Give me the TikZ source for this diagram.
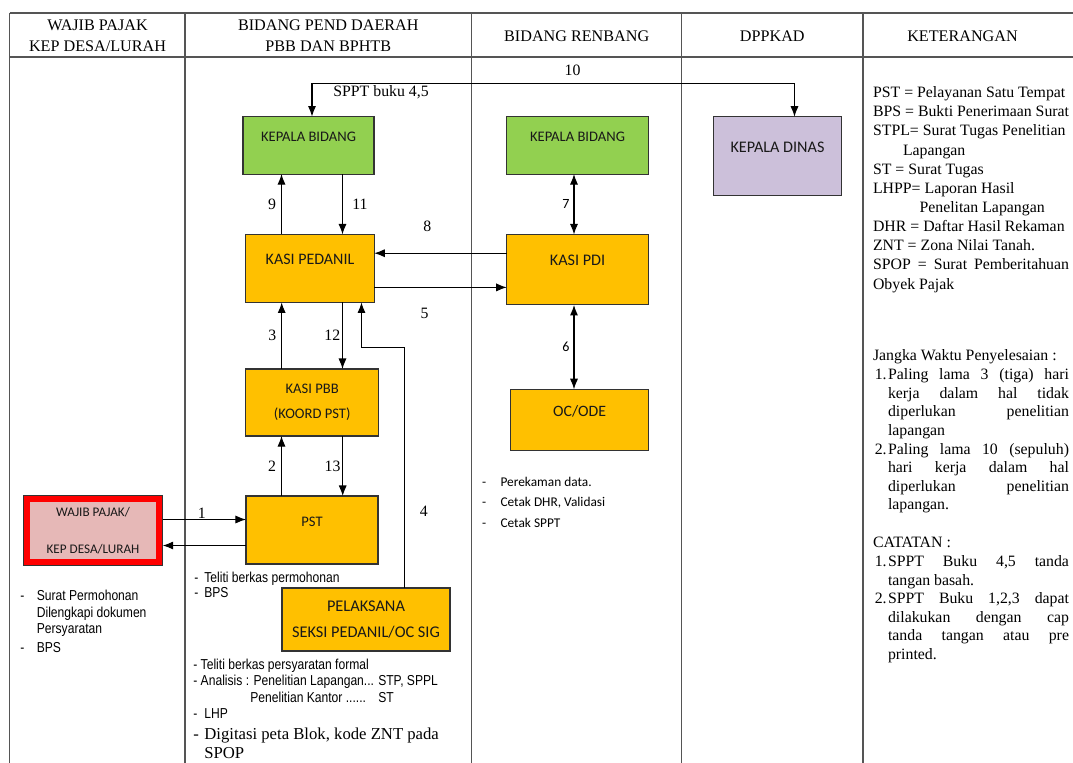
\documentclass[tikz,border=0pt]{standalone}
\usepackage{fontspec}
\setmainfont{Liberation Serif}
\newfontfamily\calibri{Carlito}
\newfontfamily\arialn[FakeStretch=0.84]{Liberation Sans}
\usetikzlibrary{arrows.meta,positioning,calc}
\definecolor{boxgreen}{HTML}{92D050}
\definecolor{boxorange}{HTML}{FFC000}
\definecolor{boxpurple}{HTML}{CCC0DA}
\definecolor{boxpink}{HTML}{E6B8B7}
\definecolor{tblgray}{HTML}{555555}
\definecolor{edgegray}{HTML}{333333}

\begin{document}
\begin{tikzpicture}[x=0.02cm, y=-0.02cm,
    box/.style={rectangle, draw=edgegray, line width=0.6pt, inner sep=0pt, outer sep=0pt, align=center, text=black!90, font=\calibri\fontsize{8.3}{10}\selectfont},
    toptext/.style={text height=6pt, text depth=10.5pt},
    arr/.style={->, >={Latex[length=6pt,width=4.6pt]}, line width=0.6pt},
    num/.style={inner sep=0pt, font=\fontsize{9}{11}\selectfont},
    head/.style={align=center, font=\fontsize{9.2}{12.2}\selectfont},
    tbl/.style={draw=tblgray, line width=0.6pt},
    note/.style={anchor=north west, align=left, inner sep=0pt, font=\arialn\fontsize{8.2}{9.4}\selectfont}
]
\useasboundingbox (0,0) rectangle (1073,762);
\clip (0,0) rectangle (1073,762);
\fill[white] (0,0) rectangle (1073,762);

% table
\draw[tbl] (9.5,13) -- (1080,13);
\draw[tbl] (9.5,57) -- (1080,57);
\draw[tbl] (9.5,13) -- (9.5,770);
\foreach \cx in {185,471.7,681.7,863}
    \draw[tbl] (\cx,13) -- (\cx,770);

\node[head] (hwp) at (97.5,35.7) {WAJIB PAJAK\\KEP DESA/LURAH};
\node[head] (hpend) at (328.3,35.7) {BIDANG PEND DAERAH\\PBB DAN BPHTB};
\node[head] (hren) at (576.7,36) {BIDANG RENBANG};
\node[head] (hdpp) at (772.3,36) {DPPKAD};
\node[head] (hket) at (962.5,36) {KETERANGAN};

% boxes
\node[box, toptext, fill=boxgreen, minimum width=2.62cm, minimum height=1.15cm] (kabid) at (308.5,145.3) {KEPALA BIDANG};
\node[box, toptext, fill=boxgreen, minimum width=2.83cm, minimum height=1.15cm] (kabidpdi) at (577.5,145.3) {KEPALA BIDANG};
\node[box, toptext, fill=boxpurple, minimum width=2.57cm, minimum height=1.58cm, font=\calibri\fontsize{9.2}{11}\selectfont] (kadis) at (777.5,156.2) {KEPALA DINAS};
\node[box, toptext, fill=boxorange, minimum width=2.57cm, minimum height=1.36cm, font=\calibri\fontsize{9.1}{11}\selectfont] (pedanil) at (310,268.4) {KASI PEDANIL};
\node[box, toptext, fill=boxorange, minimum width=2.83cm, minimum height=1.41cm, font=\calibri\fontsize{9.2}{11}\selectfont] (kasipdi) at (577.5,269.7) {KASI PDI};
\node[box, fill=boxorange, minimum width=2.65cm, minimum height=1.34cm] (kasipbb) at (312.2,402.5) {KASI PBB\\[4.5pt](KOORD PST)};
\node[box, toptext, fill=boxorange, minimum width=2.75cm, minimum height=1.23cm, font=\calibri\fontsize{9}{11}\selectfont] (ocode) at (579.7,420) {OC/ODE};
\node[box, toptext, fill=boxorange, minimum width=2.64cm, minimum height=1.36cm] (pst) at (312,530) {PST};
\node[box, fill=boxorange, minimum width=3.36cm, minimum height=1.26cm, font=\calibri\fontsize{9.3}{11}\selectfont] (pelaksana) at (366,619.5) {PELAKSANA\\[4.2pt]SEKSI PEDANIL/OC SIG};
\node[box, draw=red, line width=3.6pt, outer sep=2.1pt, fill=boxpink, minimum width=2.64cm, minimum height=1.25cm, font=\calibri\fontsize{7.5}{9}\selectfont] (wp) at (93,530.5) {WAJIB PAJAK/\\[12pt]KEP DESA/LURAH};
\draw[draw=edgegray, line width=0.6pt] (wp.north west) rectangle (wp.south east);

% connectors
\coordinate (top10) at (572.5,83.3);
\draw[arr, <->] ([xshift=0.07cm]kabid.north) |- (top10) node[num, above=4.3pt] {10} -| ([xshift=0.34cm]kadis.north);
\node[num, anchor=west] (sppt) at (333,92) {SPPT buku 4,5};

\draw[arr] ([xshift=-0.57cm]pedanil.north) -- node[num, left=2.8pt] {9} ([xshift=-0.57cm]pedanil.north |- kabid.south);
\draw[arr] ([xshift=0.68cm]kabid.south) -- node[num, right=5.3pt] {11} ([xshift=0.68cm]kabid.south |- pedanil.north);
\draw[arr] ([yshift=0.33cm]kasipdi.west) -- node[num, pos=0.6, above=12pt] {8} ([yshift=0.33cm]kasipdi.west -| pedanil.east);
\draw[arr] ([yshift=-0.38cm]pedanil.east) -- node[num, pos=0.38, below=11.5pt] {5} ([yshift=-0.38cm]pedanil.east -| kasipdi.west);
\draw[arr, <->] ([xshift=-0.07cm]kabidpdi.south) -- node[num, left=2.3pt, font=\calibri\fontsize{8}{9}\selectfont] {7} ([xshift=-0.07cm]kabidpdi.south |- kasipdi.north);
\draw[arr, <->] ([xshift=-0.07cm]kasipdi.south) -- node[num, left=2.3pt, font=\calibri\fontsize{8}{9}\selectfont] {6} ([xshift=-0.07cm]kasipdi.south |- ocode.north);
\draw[arr] ([xshift=-0.61cm]kasipbb.north) -- node[num, left=2.8pt] {3} ([xshift=-0.61cm]kasipbb.north |- pedanil.south);
\draw[arr] ([xshift=0.65cm]pedanil.south) -- node[num, left=1pt] {12} ([xshift=0.65cm]pedanil.south |- kasipbb.north);
\draw[arr] ([xshift=-0.61cm]pst.north) -- node[num, left=2.8pt] {2} ([xshift=-0.61cm]pst.north |- kasipbb.south);
\draw[arr] ([xshift=0.61cm]kasipbb.south) -- node[num, left=1pt] {13} ([xshift=0.61cm]kasipbb.south |- pst.north);
\coordinate (bend4) at (361.7,347.7);
\draw[arr] ([xshift=0.77cm]pelaksana.north) |- node[num, pos=0.16, right=8.4pt] {4} (bend4) -| ([xshift=1.03cm]pedanil.south);
\draw[arr] ([yshift=0.22cm]wp.east) -- node[num, pos=0.47, above=0.5pt] {1} ([yshift=0.22cm]wp.east -| pst.west);
\draw[arr] ([yshift=-0.30cm]wp.east -| pst.west) -- ([yshift=-0.30cm]wp.east);

% notes under the boxes
\node[note] (wpnote) at (20,589.7) {\makebox[0.33cm][l]{-}Surat Permohonan\\\hspace*{0.33cm}Dilengkapi dokumen\\\hspace*{0.33cm}Persyaratan\\[1.5pt]\makebox[0.33cm][l]{-}BPS};
\node[note, font=\arialn\fontsize{8.2}{8.5}\selectfont] (pstnote) at (194,571.7) {\makebox[0.2cm][l]{-}Teliti berkas permohonan\\\makebox[0.2cm][l]{-}BPS};
\node[note, font=\arialn\fontsize{8.2}{9.3}\selectfont] (pelnote) at (193,658.7) {- Teliti berkas persyaratan formal\\\makebox[3.7cm][l]{- Analisis : Penelitian Lapangan...}STP, SPPL\\\hspace*{1.14cm}\makebox[2.56cm][l]{Penelitian Kantor ......}ST\\\makebox[0.22cm][l]{-}LHP};
\node[note, font=\fontsize{9.5}{10.8}\selectfont] (digitasi) at (193,728) {\makebox[0.22cm][l]{-}Digitasi peta Blok, kode ZNT pada\\\hspace*{0.22cm}SPOP};
\node[note, font=\calibri\fontsize{7.6}{11.7}\selectfont] (ocnote) at (481.7,476.5) {\makebox[0.37cm][l]{-}Perekaman data.\\\makebox[0.37cm][l]{-}Cetak DHR, Validasi\\\makebox[0.37cm][l]{-}Cetak SPPT};

% keterangan
\node[note, font=\fontsize{9}{10.9}\selectfont] (legend) at (872.7,86.3) {PST = Pelayanan Satu Tempat\\BPS = Bukti Penerimaan Surat\\STPL= Surat Tugas Penelitian\\\hspace*{0.6cm}Lapangan\\ST = Surat Tugas\\LHPP= Laporan Hasil\\\hspace*{0.93cm}Penelitan Lapangan\\DHR = Daftar Hasil Rekaman\\ZNT = Zona Nilai Tanah.\\\makebox[3.92cm][s]{SPOP = Surat Pemberitahuan}\\Obyek Pajak};
\node[note, font=\fontsize{9}{10.6}\selectfont] (jangka) at (872.7,349.6) {Jangka Waktu Penyelesaian :\\
\makebox[0.3cm][l]{\hspace*{1pt}1.}\makebox[3.62cm][s]{Paling lama 3 (tiga) hari}\\
\hspace*{0.3cm}\makebox[3.62cm][s]{kerja dalam hal tidak}\\
\hspace*{0.3cm}\makebox[3.62cm][s]{diperlukan penelitian}\\
\hspace*{0.3cm}lapangan\\
\makebox[0.3cm][l]{\hspace*{1pt}2.}\makebox[3.62cm][s]{Paling lama 10 (sepuluh)}\\
\hspace*{0.3cm}\makebox[3.62cm][s]{hari kerja dalam hal}\\
\hspace*{0.3cm}\makebox[3.62cm][s]{diperlukan penelitian}\\
\hspace*{0.3cm}lapangan.\\[11pt]
CATATAN :\\
\makebox[0.3cm][l]{\hspace*{1pt}1.}\makebox[3.62cm][s]{SPPT Buku 4,5 tanda}\\
\hspace*{0.3cm}tangan basah.\\
\makebox[0.3cm][l]{\hspace*{1pt}2.}\makebox[3.62cm][s]{SPPT Buku 1,2,3 dapat}\\
\hspace*{0.3cm}\makebox[3.62cm][s]{dilakukan dengan cap}\\
\hspace*{0.3cm}\makebox[3.62cm][s]{tanda tangan atau pre}\\
\hspace*{0.3cm}printed.};
\end{tikzpicture}
\end{document}
